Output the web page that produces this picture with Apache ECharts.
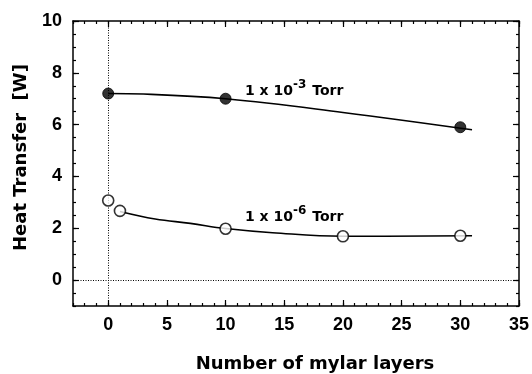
<!DOCTYPE html>
<html>
<head>
<meta charset="utf-8">
<script src="https://cdn.jsdelivr.net/npm/echarts@6/dist/echarts.min.js"></script>
<style>
  html, body { margin: 0; padding: 0; background: #fff; }
  #chart { width: 532px; height: 374px; }
</style>
</head>
<body>
<div id="chart"></div>
<script>
// measured points (markers)
const layers3 = [0, 10, 30];
const heat3 = [7.2, 7.0, 5.9];
const layers6 = [0, 1, 10, 20, 30];
const heat6 = [3.07, 2.67, 1.98, 1.69, 1.71];

// fitted curves
const fitX3 = [0, 3, 10, 20, 31];
const fitY3 = [7.2, 7.18, 7.0, 6.47, 5.8];
const fitX6 = [1, 4, 7, 10, 14, 20, 31];
const fitY6 = [2.65, 2.36, 2.19, 1.99, 1.83, 1.69, 1.71];

const xTicks = [0, 5, 10, 15, 20, 25, 30, 35];
const yTicks = [0, 2, 4, 6, 8, 10];

const FONT = 'Liberation Sans';
const X_MIN = -3, X_MAX = 35, Y_MIN = -1, Y_MAX = 10;

function pairs(xs, ys) {
    return xs.map((x, i) => [x, ys[i]]);
}

const lineStyle = { color: '#000', width: 1.5 };
const tickStyle = { color: '#000', width: 1.2 };
const labelStyle = { color: '#000', fontFamily: FONT, fontWeight: 'bold', fontSize: 18 };

// minor tick axis (frame + short ticks)
function minorAxis(min, max, step, position) {
    return {
        type: 'value', min: min, max: max, interval: step, position: position,
        axisLine: { show: true, onZero: false, lineStyle: lineStyle },
        axisTick: { show: true, inside: true, length: 3, lineStyle: tickStyle },
        axisLabel: { show: false },
        splitLine: { show: false }
    };
}

// major tick axis (long ticks + optional labels)
function majorAxis(min, max, ticks, position, labels, margin) {
    return {
        type: 'value', min: min, max: max, position: position,
        axisLine: { show: false, onZero: false },
        axisTick: { show: true, inside: true, length: 6, customValues: ticks, lineStyle: tickStyle },
        axisLabel: Object.assign({ show: labels, customValues: ticks, margin: margin }, labelStyle),
        splitLine: { show: false }
    };
}

const chart = echarts.init(document.getElementById('chart'));

const richLabel = {
    a: { fontFamily: 'DejaVu Sans', fontWeight: 'bold', fontSize: 14, fill: '#000', verticalAlign: 'bottom' },
    s: { fontFamily: 'DejaVu Sans', fontWeight: 'bold', fontSize: 12, fill: '#000', verticalAlign: 'bottom', padding: [0, 1, 7, 0] }
};

const option = {
    animation: false,
    backgroundColor: '#fff',
    grid: { left: 73, top: 21, right: 11, bottom: 68 },
    xAxis: [
        minorAxis(X_MIN, X_MAX, 1, 'bottom'),
        majorAxis(X_MIN, X_MAX, xTicks, 'bottom', true, 10),
        minorAxis(X_MIN, X_MAX, 1, 'top'),
        majorAxis(X_MIN, X_MAX, xTicks, 'top', false, 8)
    ],
    yAxis: [
        minorAxis(Y_MIN, Y_MAX, 0.5, 'left'),
        majorAxis(Y_MIN, Y_MAX, yTicks, 'left', true, 11),
        minorAxis(Y_MIN, Y_MAX, 0.5, 'right'),
        majorAxis(Y_MIN, Y_MAX, yTicks, 'right', false, 8)
    ],
    graphic: [
        {
            type: 'text', x: 12, y: 251, rotation: Math.PI / 2,
            style: { text: 'Heat Transfer  [W]', fill: '#000', font: 'bold 18px "DejaVu Sans"' }
        },
        {
            type: 'text', x: 315, y: 364,
            style: {
                text: 'Number of mylar layers', fill: '#000',
                font: 'bold 18px "DejaVu Sans"', align: 'center', verticalAlign: 'middle'
            }
        },
        {
            type: 'text', x: 245, y: 79,
            style: { text: '{a|1 x 10}{s|-3}{a| Torr}', rich: richLabel }
        },
        {
            type: 'text', x: 245, y: 205,
            style: { text: '{a|1 x 10}{s|-6}{a| Torr}', rich: richLabel }
        }
    ],
    series: [
        {
            type: 'line', data: [], silent: true,
            markLine: {
                silent: true, symbol: 'none', label: { show: false },
                lineStyle: { color: '#000', type: [1, 1.5], width: 1 },
                data: [{ xAxis: 0 }, { yAxis: 0 }]
            }
        },
        {
            type: 'line', data: pairs(fitX3, fitY3), smooth: 0.4, showSymbol: false,
            lineStyle: { color: '#000', width: 1.6 }, z: 3
        },
        {
            type: 'line', data: pairs(fitX6, fitY6), smooth: 0.4, showSymbol: false,
            lineStyle: { color: '#000', width: 1.6 }, z: 3
        },
        {
            type: 'scatter', data: pairs(layers3, heat3), symbol: 'circle', symbolSize: 11,
            itemStyle: { color: '#000', borderColor: '#000', borderWidth: 1 }, z: 5
        },
        {
            type: 'scatter', data: pairs(layers6, heat6), symbol: 'circle', symbolSize: 11,
            itemStyle: { color: '#fff', borderColor: '#000', borderWidth: 1.6 }, z: 5
        }
    ]
};

chart.setOption(option);
</script>
</body>
</html>
